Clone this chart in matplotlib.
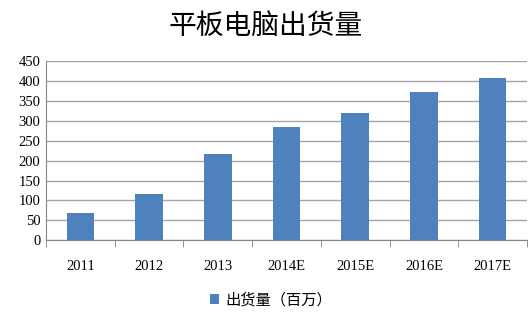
import numpy as np
import matplotlib.pyplot as plt

# 数据
annees = ["2011", "2012", "2013", "2014E", "2015E", "2016E", "2017E"]
livraisons = [68, 116, 217, 285, 320, 373, 407]
yticks = [0, 50, 100, 150, 200, 250, 300, 350, 400, 450]

plt.rcParams['font.family'] = ['Noto Sans CJK SC', 'DejaVu Sans']

fig = plt.figure(figsize=(5.32, 3.16), dpi=100)
ax = fig.add_axes([0.0865, 0.2396, 0.904, 0.5674])

x = np.arange(len(annees))
ax.bar(x, livraisons, width=0.4, color='#4f81bd', zorder=3, label='出货量（百万）')

ax.set_xlim(-0.5, len(annees) - 0.5)
ax.set_ylim(0, 450)
ax.set_yticks(yticks)
ax.set_yticklabels([str(v) for v in yticks], family='Liberation Serif', fontsize=10.5)
ax.set_xticks(x)
ax.set_xticklabels(annees, family='Liberation Serif', fontsize=10.5)
ax.tick_params(axis='x', length=0, pad=14)
ax.tick_params(axis='y', length=0, pad=4)

# ticks between categories
ax.set_xticks(np.arange(-0.5, len(annees)), minor=True)
ax.tick_params(axis='x', which='minor', length=5, color='#868686', direction='out')

ax.grid(axis='y', color='#a6a6a6', linewidth=1, zorder=0)
for s in ['top', 'right']:
    ax.spines[s].set_visible(False)
ax.spines['left'].set_color('#868686')
ax.spines['bottom'].set_color('#868686')

fig.text(0.5, 0.918, "平板电脑出货量", ha='center', va='center', fontsize=20)

fig.legend(loc='center', bbox_to_anchor=(0.51, 0.05), frameon=False, fontsize=11,
           handlelength=0.6, handleheight=0.6, handletextpad=0.4)

plt.savefig("out.png", dpi=100)
